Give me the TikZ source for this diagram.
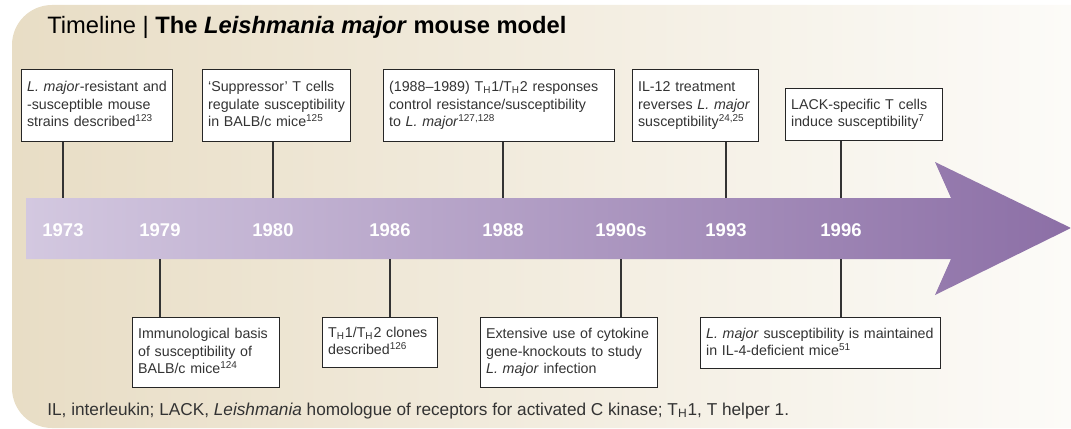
\documentclass[tikz,border=0pt]{standalone}
\usepackage{fontspec}
\setmainfont{Liberation Sans}
\usepackage{xcolor}
\usepackage{tikz}
\usetikzlibrary{positioning}
\definecolor{bgtan}{HTML}{E8DDC5}
\definecolor{bgwhite}{HTML}{FCFBF8}
\definecolor{arrlight}{HTML}{D3C8E0}
\definecolor{arrdark}{HTML}{8C6FA6}
\definecolor{txtgray}{HTML}{333333}
\newcommand{\evtext}[1]{\begin{tabular}{@{}l@{}}#1\end{tabular}}

\begin{document}
\begin{tikzpicture}[x=0.02cm,y=-0.02cm,
  every node/.style={font=\fontsize{8.1}{9.7}\selectfont,text=txtgray},
  b/.style={draw=black!85,line width=0.7pt,fill=white,anchor=north west,inner xsep=0.11cm,inner ysep=0pt,
    execute at begin node={\parindent=0pt}},
  e/.style={draw=black!80,line width=0.7pt},
  yr/.style={text=white,font=\fontsize{10.5}{12}\selectfont\bfseries}]
 \useasboundingbox (0,0) rectangle (1071,429);
 % background panel and arrow
 \shade[left color=bgtan,right color=bgwhite,rounded corners=0.8cm] (1071,5) -- (12,5) -- (12,428) -- (1071,428);
 \shade[left color=arrlight,right color=arrdark] (26,198) -- (951,198) -- (935,162) -- (1071,228) -- (935,295) -- (951,259) -- (26,259) -- cycle;
 \coordinate (bandtop) at (0,198); \coordinate (bandbot) at (0,259);
 \node[anchor=base west,font=\fontsize{13.5}{15}\selectfont,text=black,inner sep=0pt] (title) at (47,34) {Timeline | \textbf{The \textit{Leishmania major} mouse model}};
 % years
 \node[yr] (y73) at (63,230) {1973};
 \node[yr] (y79) at (160,230) {1979};
 \node[yr] (y80) at (273,230) {1980};
 \node[yr] (y86) at (390,230) {1986};
 \node[yr] (y88) at (503,230) {1988};
 \node[yr] (y90) at (621,230) {1990s};
 \node[yr] (y93) at (726,230) {1993};
 \node[yr] (y96) at (841,230) {1996};
 % events above
 \node[b,text width=2.8cm,minimum height=1.44cm] (b1) at (21,69) {\evtext{\textit{L. major}-resistant and\\-susceptible mouse\\strains described\textsuperscript{123}}};
 \node[b,text width=2.74cm,minimum height=1.44cm] (b2) at (202,69) {\evtext{`Suppressor' T cells\\regulate susceptibility\\in BALB/c mice\textsuperscript{125}}};
 \node[b,text width=4.4cm,minimum height=1.44cm] (b3) at (383,69) {\evtext{(1988--1989) T\textsubscript{H}1/T\textsubscript{H}2 responses\\control resistance/susceptibility\\to \textit{L. major}\textsuperscript{127,128}}};
 \node[b,text width=2.3cm,minimum height=1.44cm] (b4) at (632,69) {\evtext{IL-12 treatment\\reverses \textit{L. major}\\susceptibility\textsuperscript{24,25}}};
 \node[b,text width=2.92cm,minimum height=1.04cm] (b5) at (785,88) {\evtext{LACK-specific T cells\\induce susceptibility\textsuperscript{7}}};
 % events below
 \node[b,text width=2.72cm,minimum height=1.4cm] (b6) at (132,317) {\evtext{Immunological basis\\of susceptibility of\\BALB/c mice\textsuperscript{124}}};
 \node[b,text width=2.08cm,minimum height=1.0cm] (b7) at (322,317) {\evtext{T\textsubscript{H}1/T\textsubscript{H}2 clones\\described\textsuperscript{126}}};
 \node[b,text width=3.32cm,minimum height=1.4cm] (b8) at (480,317) {\evtext{Extensive use of cytokine\\gene-knockouts to study\\\textit{L. major} infection}};
 \node[b,text width=4.58cm,minimum height=1.02cm] (b9) at (700,317) {\evtext{\textit{L. major} susceptibility is maintained\\in IL-4-deficient mice\textsuperscript{51}}};
 \draw[e] (y73 |- b1.south) -- (y73 |- bandtop);
 \draw[e] (y80 |- b2.south) -- (y80 |- bandtop);
 \draw[e] (y88 |- b3.south) -- (y88 |- bandtop);
 \draw[e] (y93 |- b4.south) -- (y93 |- bandtop);
 \draw[e] (y96 |- b5.south) -- (y96 |- bandtop);
 \draw[e] (y79 |- b6.north) -- (y79 |- bandbot);
 \draw[e] (y86 |- b7.north) -- (y86 |- bandbot);
 \draw[e] (y90 |- b8.north) -- (y90 |- bandbot);
 \draw[e] (y96 |- b9.north) -- (y96 |- bandbot);
 \node[anchor=base west,font=\fontsize{9.8}{11}\selectfont,inner sep=0pt] (note) at (47,415) {IL, interleukin; LACK, \textit{Leishmania} homologue of receptors for activated C kinase; T\textsubscript{H}1, T helper 1.};
\end{tikzpicture}
\end{document}
